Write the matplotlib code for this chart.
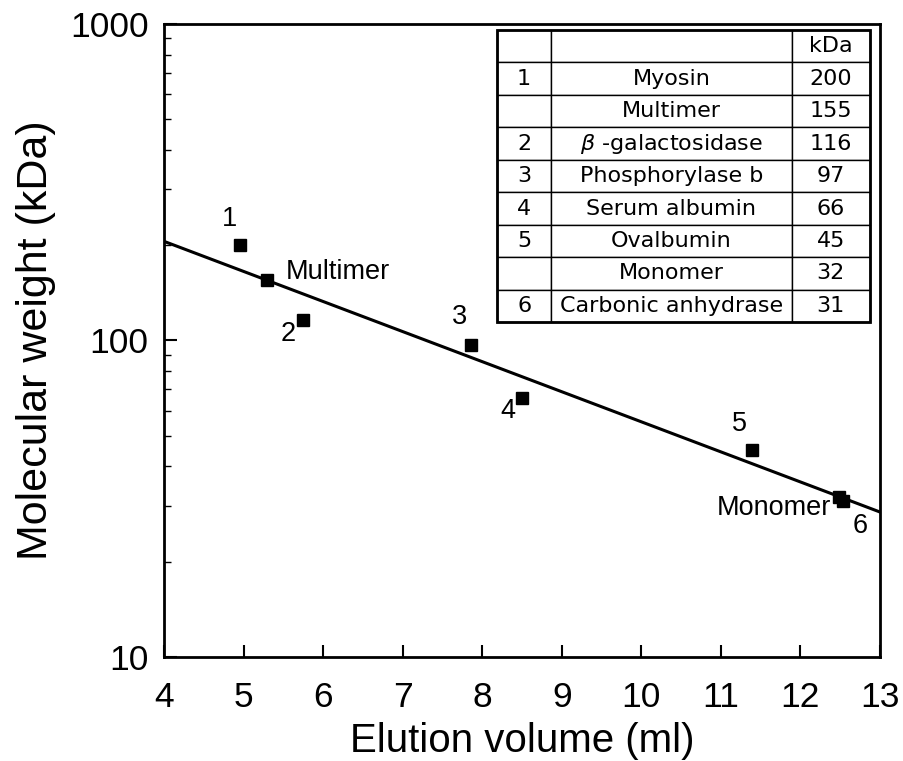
"""Calibration curve: molecular weight vs elution volume (log scale)."""

import matplotlib

matplotlib.use("Agg")

import matplotlib.pyplot as plt
import numpy as np
from matplotlib.patches import Rectangle

plt.rcParams["font.family"] = ["Liberation Sans", "DejaVu Sans"]

# data
volumes = [4.95, 5.29, 5.75, 7.86, 8.50, 11.39, 12.49, 12.54]
weights = [200, 155, 116, 97, 66, 45, 32, 31]
point_labels = ["1", "Multimer", "2", "3", "4", "5", "Monomer", "6"]
# (dx, dy) in points, horizontal alignment
label_offsets = [(-7, 19), (14, 6), (-11, -10), (-8, 20), (-10, -10), (-9, 19), (-6, -8), (12, -18)]
label_ha = ["center", "left", "center", "center", "center", "center", "right", "center"]

table_ids = ["", "1", "", "2", "3", "4", "5", "", "6"]
table_names = ["", "Myosin", "Multimer", r"$\beta$ -galactosidase", "Phosphorylase b",
               "Serum albumin", "Ovalbumin", "Monomer", "Carbonic anhydrase"]
table_kda = ["kDa", "200", "155", "116", "97", "66", "45", "32", "31"]

fig = plt.figure(figsize=(9.04, 7.61), dpi=100)
ax = fig.add_axes([0.1814, 0.1367, 0.792, 0.8318])

# regression line log10(MW) vs volume
x = np.array(volumes)
y = np.log10(weights)
slope, icpt = np.polyfit(x, y, 1)
xl = np.array([4, 13])
ax.plot(xl, 10 ** (icpt + slope * xl), color="black", lw=2.2, zorder=2)

ax.plot(volumes, weights, "s", color="black", ms=9, zorder=3)

for xv, wv, lab, off, ha in zip(volumes, weights, point_labels, label_offsets, label_ha):
    ax.annotate(lab, (xv, wv), xytext=off, textcoords="offset points",
                ha=ha, va="center", fontsize=19.5)

ax.set_yscale("log")
ax.set_xlim(4, 13)
ax.set_ylim(10, 1000)
ax.set_xticks(range(4, 14))
ax.set_yticks([10, 100, 1000])
ax.set_yticklabels(["10", "100", "1000"])
ax.tick_params(axis="both", which="major", direction="in", length=9, width=1.5,
               labelsize=25.5)
ax.tick_params(axis="x", pad=17)
ax.tick_params(axis="y", pad=11)
ax.tick_params(axis="y", which="minor", direction="in", length=5, width=1)
ax.tick_params(axis="x", which="minor", bottom=False)
for s in ax.spines.values():
    s.set_linewidth(2)

ax.set_xlabel("Elution volume (ml)", fontsize=29, labelpad=6)
ax.set_ylabel("Molecular weight (kDa)", fontsize=31, labelpad=10)

cell_text = [[a, b, c] for a, b, c in zip(table_ids, table_names, table_kda)]
bbox = [0.465, 0.529, 0.521, 0.4615]
tbl = ax.table(cellText=cell_text, colWidths=[0.146, 0.645, 0.21],
               cellLoc="center", bbox=bbox, zorder=4)
tbl.auto_set_font_size(False)
tbl.set_fontsize(16)
for cell in tbl.get_celld().values():
    cell.set_linewidth(1.0)
    cell.set_facecolor("white")
    cell.get_text().set_fontfamily("DejaVu Sans")
ax.add_patch(Rectangle((bbox[0], bbox[1]), bbox[2], bbox[3], transform=ax.transAxes,
                       fill=False, lw=2, ec="black", zorder=5))

fig.savefig("out.png", dpi=100)
